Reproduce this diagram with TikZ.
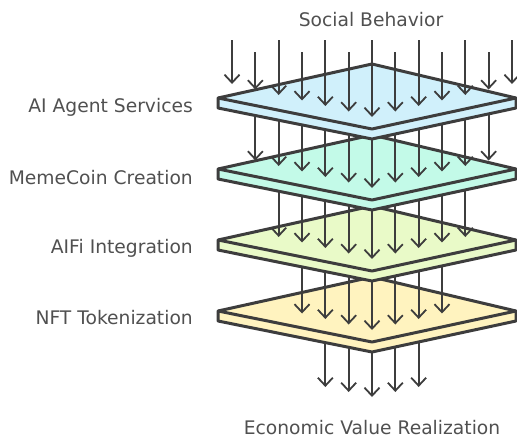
\documentclass[tikz,border=0pt]{standalone}
\usepackage{fontspec}
\setmainfont{DejaVu Sans}
\usetikzlibrary{arrows.meta}
\definecolor{sky}{HTML}{D0F0FB}
\definecolor{mint}{HTML}{C3FAE8}
\definecolor{lime}{HTML}{E9FAC8}
\definecolor{yel}{HTML}{FFF3BF}
\definecolor{ink}{HTML}{3D3D3D}
\definecolor{txt}{HTML}{505050}
\tikzset{
  plateline/.style={draw=ink, line width=3pt, line join=round},
  flow/.style={draw=ink, line width=1.8pt, -{Straight Barb[length=8pt,width=15pt,line width=1.8pt]}},
  lbl/.style={text=txt, font=\fontsize{18.7}{22}\selectfont, inner sep=0pt},
}
\begin{document}
\begin{tikzpicture}[x=1pt,y=-1pt]
\useasboundingbox (0,0) rectangle (517,439);
% bottom arrows (below plate 4)
\foreach \d in {-2,...,2}{
  \pgfmathsetmacro{\xx}{372+23.33*\d}
  \pgfmathsetmacro{\ys}{311+41-abs(\d)*23.33*31/150-3}
  \pgfmathsetmacro{\ye}{397-5*abs(\d)}
  \coordinate (bs\d) at (\xx,\ys);
  \coordinate (be\d) at (\xx,\ye);
  \draw[flow] (bs\d) -- (be\d);
}
% plates from bottom to top, with arrows landing on each
\foreach \cy/\pcy/\col/\n in {311/240/yel/3, 240/169/lime/4, 169/98/mint/5, 98/0/sky/6}{
  \coordinate (L) at (218,\cy);
  \coordinate (T) at (372,\cy-34);
  \coordinate (R) at (516,\cy);
  \coordinate (B) at (372,\cy+31);
  \coordinate (L2) at (218,\cy+10);
  \coordinate (R2) at (516,\cy+10);
  \coordinate (B2) at (372,\cy+41);
  \fill[\col] (L) -- (T) -- (R) -- (R2) -- (B2) -- (L2) -- cycle;
  \draw[plateline] (L) -- (T) -- (R) -- (R2) -- (B2) -- (L2) -- cycle;
  \draw[plateline] (L) -- (B) -- (R);
  \foreach \d in {-\n,...,\n}{
    \pgfmathsetmacro{\xx}{372+23.33*\d}
    \pgfmathsetmacro{\ye}{\cy+19-5.5*abs(\d)}
    \ifnum\pcy=0
      \pgfmathsetmacro{\ys}{ifthenelse(mod(abs(\d),2)==0,40,52)}
    \else
      \pgfmathsetmacro{\ys}{\pcy+41-abs(\d)*23.33*31/150-3}
    \fi
    \coordinate (s) at (\xx,\ys);
    \coordinate (e) at (\xx,\ye);
    \draw[flow] (s) -- (e);
  }
}
% labels
\node[lbl] (top) at (371,20) {Social Behavior};
\node[lbl] (bot) at (372,428) {Economic Value Realization};
\node[lbl, anchor=east] (l1) at (193,107) {AI Agent Services};
\node[lbl, anchor=east] (l2) at (193,178) {MemeCoin Creation};
\node[lbl, anchor=east] (l3) at (193,248) {AIFi Integration};
\node[lbl, anchor=east] (l4) at (193,318) {NFT Tokenization};
\end{tikzpicture}
\end{document}
